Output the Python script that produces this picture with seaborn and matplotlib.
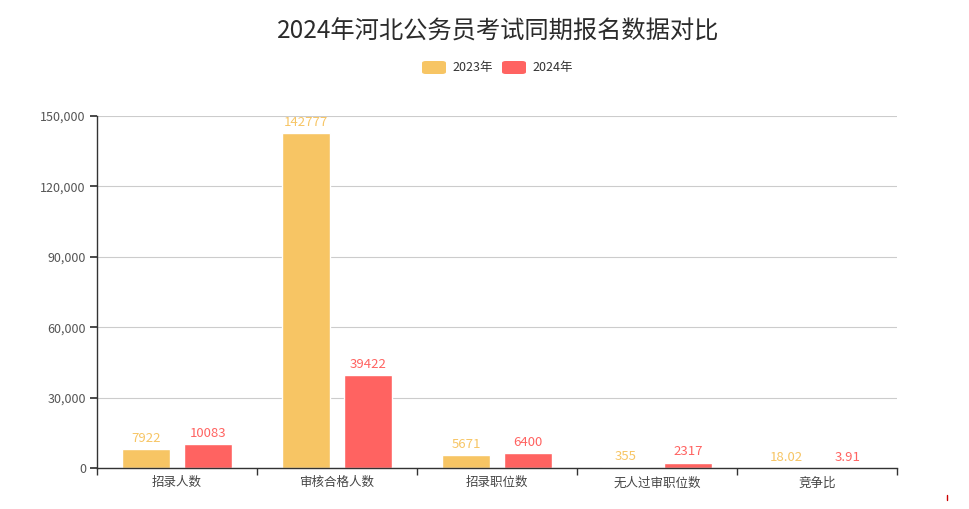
import matplotlib
matplotlib.use("Agg")
import matplotlib.pyplot as plt
import seaborn as sns
import pandas as pd
from matplotlib.patches import FancyBboxPatch
from matplotlib.lines import Line2D
from matplotlib.ticker import FuncFormatter, FixedLocator

categories = ["招录人数", "审核合格人数", "招录职位数", "无人过审职位数", "竞争比"]
series_names = ["2023年", "2024年"]
values_2023 = [7922, 142777, 5671, 355, 18.02]
values_2024 = [10083, 39422, 6400, 2317, 3.91]
label_2023 = ["7922", "142777", "5671", "355", "18.02"]
label_2024 = ["10083", "39422", "6400", "2317", "3.91"]
colors = ["#F7C564", "#FF6361"]

df = pd.DataFrame({
    "cat": categories * 2,
    "series": [series_names[0]] * 5 + [series_names[1]] * 5,
    "val": values_2023 + values_2024,
})

sns.set_theme(style="white")
plt.rcParams["font.family"] = ["Noto Sans CJK SC", "DejaVu Sans"]

fig = plt.figure(figsize=(9.7, 5.09), dpi=100)
ax = fig.add_axes([97/970, 41/509, 800/970, 352/509])

sns.barplot(data=df, x="cat", y="val", hue="series", palette=colors,
            width=0.775, gap=0.226, ax=ax, legend=False, saturation=1,
            order=categories, hue_order=series_names)

for cont, labs, col in zip(ax.containers, [label_2023, label_2024], colors):
    ax.bar_label(cont, labels=labs, padding=3, color=col, fontsize=9.5)

ax.set_ylim(0, 150000)
ax.set_xlim(-0.5, 4.5)
ax.set_yticks([0, 30000, 60000, 90000, 120000, 150000])
ax.yaxis.set_major_formatter(FuncFormatter(lambda v, p: f"{int(v):,}"))
ax.grid(axis="y", color="#cccccc", linewidth=0.8)
ax.set_axisbelow(True)
ax.set_xlabel("")
ax.set_ylabel("")
for s in ["top", "right"]:
    ax.spines[s].set_visible(False)
for s in ["left", "bottom"]:
    ax.spines[s].set_color("#333333")
    ax.spines[s].set_linewidth(1)
ax.tick_params(axis="y", length=5, color="#333333", labelsize=9, labelcolor="#555555", pad=3, left=True)
ax.tick_params(axis="x", which="major", length=0, labelsize=9, labelcolor="#444444", pad=6)
ax.xaxis.set_minor_locator(FixedLocator([-0.5, 0.5, 1.5, 2.5, 3.5, 4.5]))
ax.tick_params(axis="x", which="minor", length=5, color="#333333", bottom=True)

fig.text(498/970, 1 - 32/509, "2024年河北公务员考试同期报名数据对比", ha="center", va="center",
         fontsize=17.5, color="#2b2b2b")

# legend
for i, (name, col) in enumerate(zip(series_names, colors)):
    x0 = 422 + i * 80
    y0 = 509 - 74
    p = FancyBboxPatch((x0/970, y0/509), 24/970, 13/509,
                       boxstyle="round,pad=0,rounding_size=0.004",
                       transform=fig.transFigure, facecolor=col, edgecolor="none")
    fig.patches.append(p)
    fig.text((x0 + 30)/970, (y0 + 6.5)/509, name, ha="left", va="center",
             fontsize=9, color="#333333")

fig.lines.append(Line2D([947/970, 947/970], [1 - 495/509, 1 - 500/509],
                        transform=fig.transFigure, color="#cc0000", linewidth=1))

fig.savefig("out.png", dpi=100)
